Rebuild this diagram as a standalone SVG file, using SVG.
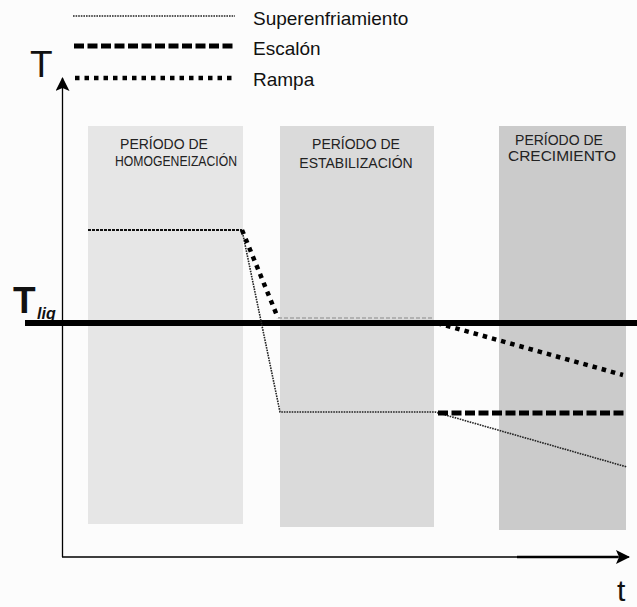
<svg xmlns="http://www.w3.org/2000/svg" width="637" height="607" viewBox="0 0 637 607">
<defs>
<style>
.lbl{font-family:"Liberation Sans",Arial,sans-serif;fill:#111}
.box-t{font-family:"Liberation Sans",Arial,sans-serif;fill:#222;font-size:14px;text-anchor:middle}
.super{fill:none;stroke:#222;stroke-width:1.6;stroke-dasharray:1.6 1}
.escalon{fill:none;stroke:#000;stroke-width:5;stroke-dasharray:10 3.5}
.rampa{fill:none;stroke:#000;stroke-width:4.5;stroke-dasharray:4.5 5}
.axis{fill:none;stroke:#000;stroke-width:1.3}
</style>
<marker id="arr" viewBox="0 0 14 14" refX="13" refY="7" markerWidth="14" markerHeight="14" markerUnits="userSpaceOnUse" orient="auto">
<path d="M0,0 L14,7 L0,14 L3,7 Z" fill="#000"/>
</marker>
</defs>
<rect width="637" height="607" fill="#fcfcfc"/>

<g id="legend">
<line class="super" x1="73" y1="16" x2="235" y2="16"/>
<line class="escalon" x1="74" y1="46" x2="235" y2="46"/>
<line class="rampa" x1="75" y1="78" x2="235" y2="78"/>
<text class="lbl" x="253" y="25" font-size="19">Superenfriamiento</text>
<text class="lbl" x="253" y="55" font-size="19">Escalón</text>
<text class="lbl" x="253" y="86" font-size="19">Rampa</text>
</g>

<g id="box-homogeneizacion">
<rect x="88" y="126" width="155" height="398" fill="#e6e6e6"/>
<text class="box-t" x="164" y="149" font-size="13">PERÍODO DE</text>
<text class="box-t" x="176" y="166" font-size="13" textLength="122" lengthAdjust="spacingAndGlyphs">HOMOGENEIZACIÓN</text>
</g>
<g id="box-estabilizacion">
<rect x="280" y="126" width="154" height="401" fill="#dadada"/>
<text class="box-t" x="356" y="149" font-size="14.5">PERÍODO DE</text>
<text class="box-t" x="356" y="168" font-size="14.5">ESTABILIZACIÓN</text>
</g>
<g id="box-crecimiento">
<rect x="499" y="126" width="127" height="404" fill="#cbcbcb"/>
<text class="box-t" x="559" y="145" font-size="14">PERÍODO DE</text>
<text class="box-t" x="562" y="161" font-size="14" textLength="108" lengthAdjust="spacingAndGlyphs">CRECIMIENTO</text>
</g>

<g id="axes">
<line class="axis" x1="62.5" y1="557" x2="62.5" y2="78" marker-end="url(#arr)"/>
<line class="axis" x1="62" y1="557" x2="629" y2="557" marker-end="url(#arr)"/>
<line x1="517" y1="557" x2="618" y2="557" stroke="#000" stroke-width="2.6"/>
<text class="lbl" x="30" y="77" font-size="37">T</text>
<text class="lbl" x="617" y="601" font-size="30">t</text>
</g>

<g id="tliq">
<text class="lbl" x="13" y="313" font-size="37" font-weight="bold" fill="#000">T</text>
<text class="lbl" x="37" y="319" font-size="16" font-weight="bold" font-style="italic">liq</text>
<line x1="25" y1="323" x2="637" y2="323" stroke="#000" stroke-width="6"/>
</g>

<g id="connectors">
<line x1="88" y1="230" x2="242" y2="230" stroke="#111" stroke-width="2" stroke-dasharray="3 1"/>
<polyline class="super" points="242,230 280,412 435,412 627,467"/>
<line x1="242" y1="230" x2="278" y2="318" class="rampa"/>
<line x1="278" y1="318" x2="432" y2="318" stroke="#888" stroke-width="1.2" stroke-dasharray="4 2"/>
<line x1="437" y1="323" x2="623" y2="375" class="rampa"/>
<line x1="438" y1="413" x2="626" y2="413" class="escalon"/>
</g>
</svg>
